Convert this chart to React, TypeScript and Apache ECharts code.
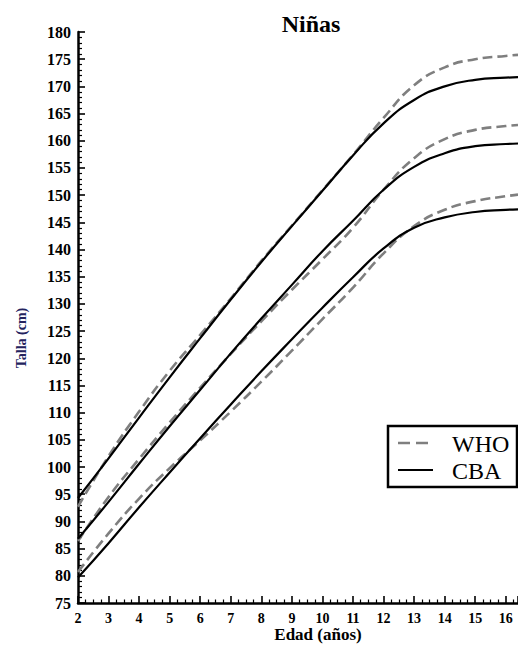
import React, { useEffect, useRef } from "react";
import * as echarts from "echarts";

const ages = [2, 3, 4, 5, 6, 7, 8, 9, 10, 11, 12, 13, 14, 15, 16, 16.4];

const whoHigh = [92.7, 102.0, 110.2, 117.7, 124.3, 131.0, 137.9, 144.4, 150.9, 157.4, 164.2, 170.2, 173.5, 175.0, 175.6, 175.8];
const cbaHigh = [94.3, 101.6, 109.1, 116.5, 123.7, 130.8, 137.7, 144.3, 150.8, 157.3, 163.2, 167.5, 170.0, 171.2, 171.6, 171.7];
const whoMid = [86.4, 94.5, 101.5, 108.2, 114.6, 120.8, 126.8, 132.6, 138.2, 144.0, 151.0, 156.8, 160.3, 162.0, 162.7, 162.9];
const cbaMid = [86.8, 93.6, 100.6, 107.5, 114.2, 120.9, 127.3, 133.5, 139.7, 145.3, 151.0, 155.2, 157.7, 159.0, 159.4, 159.5];
const whoLow = [80.7, 87.8, 94.2, 99.8, 104.9, 110.2, 115.7, 121.4, 127.2, 133.0, 139.3, 144.3, 147.3, 148.9, 149.8, 150.1];
const cbaLow = [79.7, 86.0, 92.6, 99.0, 105.3, 111.5, 117.6, 123.5, 129.3, 134.9, 140.2, 144.0, 145.9, 146.9, 147.3, 147.4];

const title = "Niñas";
const xName = "Edad (años)";
const yName = "Talla (cm)";
const legendNames = ["WHO", "CBA"];

const SERIF = "Liberation Serif";
const GREY = "#7f7f7f";

const pair = (vals: number[]) => ages.map((a, i) => [a, vals[i]]);

export default function App() {
  const ref = useRef<HTMLDivElement>(null);
  useEffect(() => {
    if (!ref.current) return;
    const chart = echarts.init(ref.current, null, { renderer: "svg" });
    const whoSeries = [whoHigh, whoMid, whoLow].map((v) => ({
      name: legendNames[0],
      type: "line",
      data: pair(v),
      smooth: 0.5,
      showSymbol: false,
      symbol: "none",
      lineStyle: { color: GREY, width: 2.6, type: [10, 5] },
      z: 2,
    }));
    const cbaSeries = [cbaHigh, cbaMid, cbaLow].map((v) => ({
      name: legendNames[1],
      type: "line",
      data: pair(v),
      smooth: 0.5,
      showSymbol: false,
      symbol: "none",
      lineStyle: { color: "#000", width: 2.2, type: "solid" },
      z: 3,
    }));
    chart.setOption({
      animation: false,
      backgroundColor: "#fff",
      textStyle: { fontFamily: SERIF },
      grid: { left: 78, right: 0, top: 32, bottom: 47, containLabel: false, outerBoundsMode: "none" },
      xAxis: {
        type: "value",
        min: 2,
        max: 16.4,
        interval: 1,
        axisLine: { show: true, lineStyle: { color: "#000", width: 2.5 } },
        axisTick: { show: true, inside: true, length: 7, lineStyle: { color: "#000", width: 1.6 } },
        minorTick: { show: true, splitNumber: 4, length: 3.5, lineStyle: { color: "#000", width: 1.2 } },
        splitLine: { show: false },
        axisLabel: {
          margin: 8,
          color: "#000",
          fontFamily: SERIF,
          fontWeight: "bold",
          fontSize: 14,
          formatter: (v: number) => (Number.isInteger(v) ? String(v) : ""),
        },
      },
      yAxis: {
        type: "value",
        min: 75,
        max: 180,
        interval: 5,
        axisLine: { show: true, lineStyle: { color: "#000", width: 2.5 } },
        axisTick: { show: true, inside: true, length: 7, lineStyle: { color: "#000", width: 1.6 } },
        minorTick: { show: true, splitNumber: 5, length: 4, lineStyle: { color: "#000", width: 1.2 } },
        splitLine: { show: false },
        axisLabel: {
          margin: 7,
          color: "#000",
          fontFamily: SERIF,
          fontWeight: "bold",
          fontSize: 16,
        },
      },
      series: [...whoSeries, ...cbaSeries],
      graphic: [
        {
          type: "text",
          x: 311,
          y: 24,
          style: {
            text: title,
            fontFamily: SERIF,
            fontWeight: "bold",
            fontSize: 24,
            fill: "#000",
            align: "center",
            verticalAlign: "middle",
          },
        },
        {
          type: "text",
          x: 318,
          y: 634,
          style: {
            text: xName,
            fontFamily: SERIF,
            fontWeight: "bold",
            fontSize: 17,
            fill: "#000",
            align: "center",
            verticalAlign: "middle",
          },
        },
        {
          type: "text",
          x: 21,
          y: 338,
          rotation: Math.PI / 2,
          style: {
            text: yName,
            fontFamily: SERIF,
            fontWeight: "bold",
            fontSize: 14,
            fill: "#23235e",
            align: "center",
            verticalAlign: "middle",
          },
        },
        {
          type: "rect",
          shape: { x: 388, y: 426, width: 129, height: 61 },
          style: { fill: "#fff", stroke: "#000", lineWidth: 2.5 },
          z: 10,
        },
        {
          type: "line",
          shape: { x1: 398, y1: 443, x2: 433, y2: 443 },
          style: { stroke: GREY, lineWidth: 2.6, lineDash: [12, 6] },
          z: 11,
        },
        {
          type: "line",
          shape: { x1: 398, y1: 470, x2: 433, y2: 470 },
          style: { stroke: "#000", lineWidth: 2.2 },
          z: 11,
        },
        {
          type: "text",
          x: 452,
          y: 444,
          style: {
            text: legendNames[0],
            fontFamily: SERIF,
            fontSize: 24,
            fill: "#000",
            align: "left",
            verticalAlign: "middle",
          },
          z: 11,
        },
        {
          type: "text",
          x: 452,
          y: 471,
          style: {
            text: legendNames[1],
            fontFamily: SERIF,
            fontSize: 24,
            fill: "#000",
            align: "left",
            verticalAlign: "middle",
          },
          z: 11,
        },
      ],
    });
    return () => chart.dispose();
  }, []);
  return (
    <div
      ref={ref}
      style={{ position: "fixed", left: 0, top: 0, width: 518, height: 650, background: "#fff" }}
    />
  );
}
